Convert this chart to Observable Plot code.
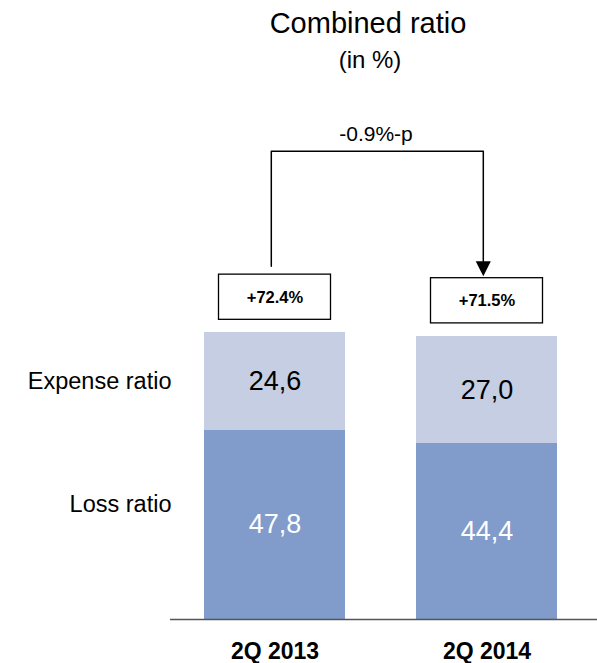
<!DOCTYPE html>
<html>
<head>
<meta charset="utf-8">
<script src="https://cdn.jsdelivr.net/npm/d3@7"></script>
<script src="https://cdn.jsdelivr.net/npm/@observablehq/plot@0.6"></script>
<style>
  html, body { margin: 0; padding: 0; background: #fff; }
  body { width: 597px; height: 663px; overflow: hidden; font-family: "Liberation Sans", Arial, sans-serif; }
  #header { position: relative; width: 597px; height: 90px; }
  #title { position: absolute; left: 368px; top: 9px; transform: translateX(-50%); font-size: 29px; line-height: 1; white-space: nowrap; color: #000; }
  #subtitle { position: absolute; left: 370px; top: 48px; transform: translateX(-50%); font-size: 24px; line-height: 1; white-space: nowrap; color: #000; }
  svg { display: block; }
</style>
</head>
<body>
<div id="header"><div id="title">Combined ratio</div><div id="subtitle">(in %)</div></div>
<div id="chart"></div>
<script>
// ---- data ----
const categories = ["2Q 2013", "2Q 2014"];
const seriesNames = ["Loss ratio", "Expense ratio"];
const lossRatio = [47.8, 44.4];
const expenseRatio = [24.6, 27.0];
const combinedRatio = [72.4, 71.5];
const changeLabel = "-0.9%-p";

// ---- derived tables ----
const fmtComma = v => v.toFixed(1).replace(".", ",");
const segments = [];
categories.forEach((c, i) => {
  segments.push({cat: c, series: seriesNames[0], y1: 0, y2: lossRatio[i], mid: lossRatio[i] / 2, value: lossRatio[i]});
  segments.push({cat: c, series: seriesNames[1], y1: lossRatio[i], y2: lossRatio[i] + expenseRatio[i], mid: lossRatio[i] + expenseRatio[i] / 2, value: expenseRatio[i]});
});
const totals = categories.map((c, i) => ({cat: c, total: combinedRatio[i], label: "+" + combinedRatio[i].toFixed(1) + "%"}));

const bracketLevel = 118.1;
const bracket = [
  {cat: categories[0], y: combinedRatio[0] + 16.7},
  {cat: categories[0], y: bracketLevel},
  {cat: categories[1], y: bracketLevel},
  {cat: categories[1], y: combinedRatio[1] + 17.0}
];

const downTriangle = {
  draw(context, size) {
    const r = Math.sqrt(size / Math.PI);
    const a = 1.3 * r;
    context.moveTo(-a, -a);
    context.lineTo(a, -a);
    context.lineTo(0, a);
    context.closePath();
  }
};

const colors = {"Loss ratio": "#819BCB", "Expense ratio": "#C5CEE2"};
const textColors = {"Loss ratio": "#ffffff", "Expense ratio": "#000000"};

const chart = Plot.plot({
  width: 597,
  height: 573,
  marginLeft: 170,
  marginRight: 0,
  marginTop: 0,
  marginBottom: 44,
  style: {fontFamily: "'Liberation Sans', Arial, sans-serif", background: "#fff", overflow: "visible"},
  x: {type: "band", domain: categories, range: [203, 558], paddingInner: 0.333, paddingOuter: 0, align: 0.5, label: null},
  y: {domain: [0, 100], range: [529, 132.6], axis: null},
  marks: [
    Plot.barY(segments, {x: "cat", y1: "y1", y2: "y2", fill: d => colors[d.series]}),
    Plot.ruleY([0], {stroke: "#555", strokeWidth: 1.5}),
    Plot.text(segments, {x: "cat", y: "mid", text: d => fmtComma(d.value), fill: d => textColors[d.series], fontSize: 27}),
    Plot.text([segments[1]], {x: "cat", y: "mid", text: "series", textAnchor: "end", dx: -103.5, fontSize: 23.5, fill: "#000"}),
    Plot.text([segments[0]], {x: "cat", y: d => 29.0, text: "series", textAnchor: "end", dx: -103.5, fontSize: 23.5, fill: "#000"}),
    Plot.rect(totals, {x: "cat", y1: d => d.total + 3.2, y2: d => d.total + 14.6, fill: "#fff", stroke: "#000", strokeWidth: 1.3, insetLeft: 14.5, insetRight: 14.5}),
    Plot.text(totals, {x: "cat", y: d => d.total + 8.9, text: "label", fontWeight: "bold", fontSize: 16.5, fill: "#000"}),
    Plot.line(bracket, {x: "cat", y: "y", stroke: "#000", strokeWidth: 1.5, dx: -3.7, curve: "linear"}),
    Plot.dot([bracket[3]], {x: "cat", y: "y", symbol: downTriangle, r: 5.8, fill: "#000", stroke: "none", dx: -3.7}),
    Plot.text([bracket[1]], {x: "cat", y: d => 122.5, text: () => changeLabel, dx: 101, fontSize: 21, fill: "#000"}),
    Plot.axisX({tickSize: 0, tickPadding: 22.7, fontSize: 23, fontWeight: "bold", fill: "#000", label: null})
  ]
});
document.getElementById("chart").appendChild(chart);
</script>
</body>
</html>
